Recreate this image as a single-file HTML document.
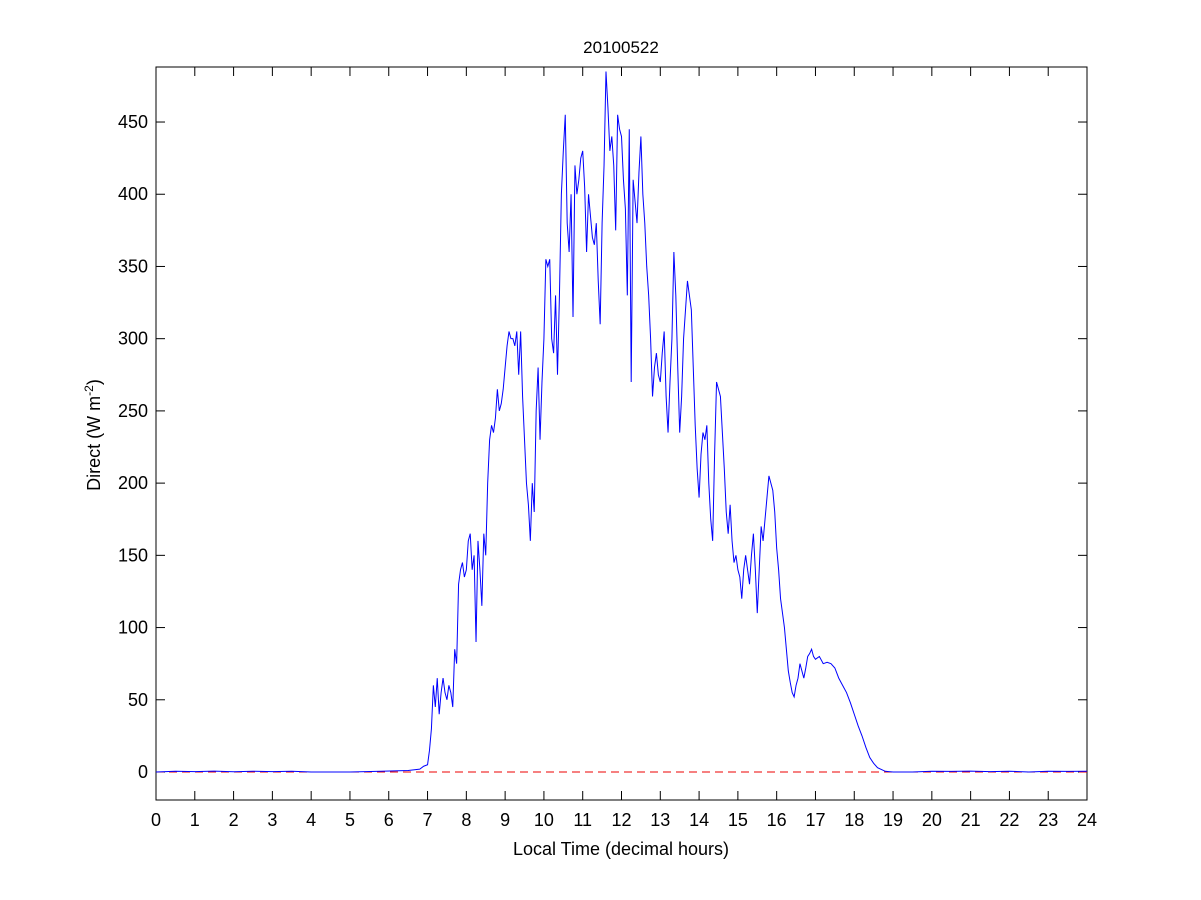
<!DOCTYPE html>
<html><head><meta charset="utf-8"><style>
html,body{margin:0;padding:0;background:#fff;}
svg{display:block;font-family:"Liberation Sans",Arial,sans-serif;}
</style></head><body>
<svg width="1201" height="900" viewBox="0 0 1201 900" xmlns="http://www.w3.org/2000/svg">
<rect width="1201" height="900" fill="#fff"/>
<rect x="156" y="67" width="931" height="733" fill="#fff" stroke="#000" stroke-width="1"/>
<g stroke="#000" stroke-width="1" id="ticks"></g>
<g font-size="18" fill="#000" id="labels"></g>
<line x1="156" y1="772" x2="1087" y2="772" stroke="#e00" stroke-width="1" stroke-dasharray="8,5"/>
<g transform="translate(156,772) scale(38.792,-1.4444)">
<polyline fill="none" stroke="#00f" stroke-width="1" vector-effect="non-scaling-stroke" points="
0,0 0.5,0.5 1,0.3 1.5,0.6 2,0.2 2.5,0.5 3,0.3 3.5,0.5 4,0 5,0 5.8,0.5 6.5,1 6.8,2 6.9,4 7.0,5 7.05,15 7.1,30 7.15,60 7.2,45 7.25,65 7.3,40 7.35,55 7.4,65 7.45,55 7.5,50 7.55,60 7.6,55 7.65,45 7.7,85 7.75,75 7.8,130 7.85,140 7.9,145 7.95,135 8.0,140 8.05,160 8.1,165 8.15,140 8.2,150 8.25,90 8.3,160 8.35,140 8.4,115 8.45,165 8.5,150 8.55,200 8.6,230 8.65,240 8.7,235 8.75,245 8.8,265 8.85,250 8.9,255 8.95,265 9.0,280 9.05,295 9.1,305 9.15,300 9.2,300 9.25,295 9.3,305 9.35,275 9.4,305 9.45,260 9.5,230 9.55,200 9.6,185 9.65,160 9.7,200 9.75,180 9.8,250 9.85,280 9.9,230 9.95,270 10.0,300 10.05,355 10.1,350 10.15,355 10.2,300 10.25,290 10.3,330 10.35,275 10.4,330 10.45,400 10.5,430 10.55,455 10.6,380 10.65,360 10.7,400 10.75,315 10.8,420 10.85,400 10.9,410 10.95,425 11.0,430 11.05,405 11.1,360 11.15,400 11.2,385 11.25,370 11.3,365 11.35,380 11.4,340 11.45,310 11.5,380 11.55,420 11.6,485 11.65,460 11.7,430 11.75,440 11.8,420 11.85,375 11.9,455 11.95,445 12.0,440 12.05,410 12.1,390 12.15,330 12.2,445 12.25,270 12.3,410 12.35,395 12.4,380 12.45,415 12.5,440 12.55,400 12.6,380 12.65,350 12.7,330 12.75,300 12.8,260 12.85,280 12.9,290 12.95,275 13.0,270 13.05,290 13.1,305 13.15,260 13.2,235 13.25,270 13.3,300 13.35,360 13.4,330 13.45,280 13.5,235 13.55,260 13.6,300 13.65,320 13.7,340 13.75,330 13.8,320 13.85,280 13.9,240 13.95,210 14.0,190 14.05,220 14.1,235 14.15,230 14.2,240 14.25,200 14.3,175 14.35,160 14.4,220 14.45,270 14.5,265 14.55,260 14.6,235 14.65,210 14.7,180 14.75,165 14.8,185 14.85,160 14.9,145 14.95,150 15.0,140 15.05,135 15.1,120 15.15,140 15.2,150 15.25,140 15.3,130 15.35,150 15.4,165 15.45,140 15.5,110 15.55,140 15.6,170 15.65,160 15.7,175 15.75,190 15.8,205 15.85,200 15.9,195 15.95,180 16.0,155 16.05,140 16.1,120 16.15,110 16.2,100 16.25,85 16.3,70 16.35,62 16.4,55 16.45,52 16.5,60 16.55,65 16.6,75 16.65,70 16.7,65 16.75,72 16.8,80 16.85,82 16.9,85 16.95,80 17.0,78 17.1,80 17.2,75 17.3,76 17.4,75 17.5,72 17.6,65 17.7,60 17.8,55 17.9,48 18.0,40 18.1,32 18.2,25 18.3,17 18.4,10 18.5,6 18.6,3 18.8,0.5 19,0 19.5,0 20,0.5 20.5,0.4 21,0.6 21.5,0.3 22,0.5 22.5,0 23,0.5 23.5,0.4 24,0.5"/>
</g>
<text x="621" y="53" font-size="17" text-anchor="middle">20100522</text>
<text x="621" y="855" font-size="18" text-anchor="middle">Local Time (decimal hours)</text>
<text transform="translate(100,435) rotate(-90)" font-size="18" text-anchor="middle">Direct (W m<tspan dy="-7" font-size="12">-2</tspan><tspan dy="7">)</tspan></text>
<script>
var t=document.getElementById('ticks'),l=document.getElementById('labels'),ns='http://www.w3.org/2000/svg';
function ln(a,b,c,d){var e=document.createElementNS(ns,'line');e.setAttribute('x1',a);e.setAttribute('y1',b);e.setAttribute('x2',c);e.setAttribute('y2',d);t.appendChild(e);}
function tx(x,y,s,an){var e=document.createElementNS(ns,'text');e.setAttribute('x',x);e.setAttribute('y',y);e.setAttribute('text-anchor',an);e.textContent=s;l.appendChild(e);}
for(var h=0;h<=24;h++){var x=156+h*38.792;ln(x,800,x,791);ln(x,67,x,76);tx(x,826,h,'middle');}
for(var v=0;v<=450;v+=50){var y=772-v*1.4444;ln(156,y,165,y);ln(1087,y,1078,y);tx(148,y+6,v,'end');}
</script>
</svg>
</body></html>
